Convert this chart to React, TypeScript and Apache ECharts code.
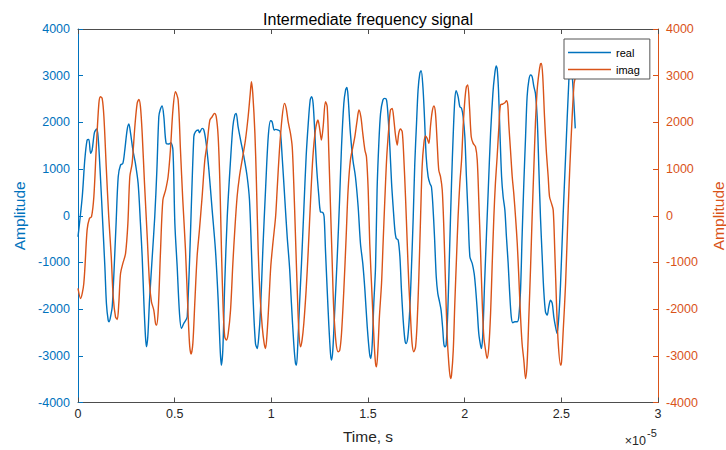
import React, { useEffect, useRef } from "react";
import * as echarts from "echarts";

// Time in units of 1e-5 s
const realT = [
  0.0, 0.022, 0.035, 0.047, 0.056, 0.065, 0.073, 0.085, 0.096, 0.104, 0.116, 0.128, 0.139, 0.147, 0.156, 0.161, 0.17, 0.177, 0.185, 0.197,
  0.208, 0.22, 0.232, 0.242, 0.254, 0.263, 0.272, 0.284, 0.297, 0.311, 0.323, 0.332, 0.341, 0.349, 0.354, 0.361, 0.37, 0.384, 0.397, 0.408,
  0.418, 0.425, 0.435, 0.444, 0.456, 0.47, 0.48, 0.491, 0.501, 0.513, 0.525, 0.535, 0.547, 0.565, 0.599, 0.608, 0.622, 0.628, 0.642, 0.651,
  0.663, 0.677, 0.694, 0.711, 0.725, 0.734, 0.741, 0.749, 0.759, 0.772, 0.789, 0.801, 0.811, 0.818, 0.828, 0.841, 0.858, 0.875, 0.887, 0.897,
  0.906, 0.918, 0.927, 0.935, 0.944, 0.956, 0.97, 0.984, 0.996, 1.004, 1.015, 1.022, 1.035, 1.046, 1.056, 1.07, 1.082, 1.094, 1.104, 1.116,
  1.125, 1.13, 1.137, 1.146, 1.156, 1.168, 1.18, 1.191, 1.201, 1.208, 1.216, 1.225, 1.234, 1.246, 1.254, 1.266, 1.273, 1.28, 1.289, 1.297,
  1.306, 1.311, 1.318, 1.328, 1.341, 1.353, 1.363, 1.375, 1.384, 1.391, 1.397, 1.409, 1.422, 1.435, 1.449, 1.461, 1.473, 1.484, 1.496, 1.508,
  1.515, 1.522, 1.53, 1.539, 1.547, 1.556, 1.565, 1.577, 1.587, 1.596, 1.604, 1.613, 1.622, 1.63, 1.639, 1.646, 1.656, 1.665, 1.673, 1.682,
  1.691, 1.697, 1.706, 1.716, 1.725, 1.734, 1.742, 1.751, 1.759, 1.768, 1.775, 1.784, 1.792, 1.801, 1.811, 1.82, 1.828, 1.835, 1.844, 1.853,
  1.861, 1.87, 1.878, 1.887, 1.892, 1.897, 1.904, 1.913, 1.922, 1.932, 1.941, 1.949, 1.956, 1.966, 1.975, 1.984, 1.992, 2.001, 2.009, 2.018,
  2.027, 2.039, 2.049, 2.056, 2.065, 2.073, 2.082, 2.087, 2.094, 2.103, 2.113, 2.122, 2.134, 2.146, 2.154, 2.163, 2.168, 2.175, 2.182, 2.191,
  2.199, 2.208, 2.216, 2.225, 2.232, 2.241, 2.249, 2.259, 2.272, 2.28, 2.289, 2.297, 2.306, 2.315, 2.323, 2.332, 2.341, 2.349, 2.358, 2.366,
  2.375, 2.384, 2.392, 2.401, 2.409, 2.418, 2.427, 2.435, 2.444, 2.453, 2.461, 2.47, 2.478, 2.487, 2.496, 2.509, 2.522, 2.539, 2.547, 2.558,
  2.572,
];
const realV = [
  -450, 407, 1193, 1621, 1636, 1336, 1407, 1779, 1857, 1693, 836, -164, -1093, -1879, -2236, -2271, -2129, -1950, -1307, -164,
  836, 1086, 1121, 1407, 1836, 1964, 1764, 1407, 1121, 693, -164, -879, -1879, -2593, -2807, -2593, -1807, -879, -21, 979,
  2121, 2264, 2350, 2121, 1550, 1536, 1564, 1407, -164, -1093, -2093, -2414, -2307, -2164, 1693, 1800, 1836, 1779, 1871, 1836,
  1550, 979, 121, -736, -1807, -2736, -3200, -2879, -1450, -21, 1193, 1907, 2157, 2193, 1907, 1621, 1264, 836, 336, -736,
  -1807, -2736, -2843, -2593, -2021, -736, 550, 1693, 2036, 2014, 1836, 1850, 1836, 1800, 1264, 336, -450, -1093, -1879, -2736,
  -3164, -3200, -2736, -1879, -1021, 121, 1264, 1979, 2479, 2550, 2407, 1764, 1050, 407, 86, 71, -21, -736, -1593, -2307,
  -2950, -3093, -2879, -2021, -879, 336, 1479, 2407, 2693, 2750, 2550, 1764, 1193, 836, 193, -593, -1021, -1593, -2379, -2950,
  -3057, -2736, -1879, -1093, 550, 1550, 2193, 2479, 2514, 2479, 2121, 1479, 693, 193, -307, -486, -521, -879, -1593, -2236,
  -2664, -2736, -2593, -2021, -1093, -21, 1121, 1979, 2693, 3050, 3107, 2764, 2121, 1264, 836, 693, 621, 264, -450, -1307,
  -1664, -1843, -2021, -2450, -2736, -2807, -2771, -2021, -736, 693, 1764, 2479, 2679, 2550, 2336, 2300, 2121, 1693, 836, -21,
  -879, -1021, -1236, -1521, -2021, -2521, -2771, -2843, -2521, -1450, -379, 550, 1764, 2621, 2979, 3207, 3157, 2693, 1836, 836,
  407, 121, -450, -1021, -1593, -2164, -2293, -2271, -2271, -2164, -1593, -450, 693, 1693, 2550, 2907, 3014, 2979, 2764, 2621,
  2121, 979, -21, -879, -1593, -2057, -2129, -1950, -1807, -1879, -2164, -2379, -2521, -2164, -1450, -21, 1264, 2907, 3407, 2907,
  1871,
];

const imagT = [
  0.0, 0.013, 0.03, 0.047, 0.059, 0.07, 0.082, 0.094, 0.108, 0.116, 0.125, 0.134, 0.146, 0.159, 0.172, 0.182, 0.194, 0.203, 0.211, 0.22,
  0.232, 0.246, 0.258, 0.268, 0.28, 0.294, 0.306, 0.315, 0.323, 0.332, 0.344, 0.358, 0.37, 0.38, 0.392, 0.401, 0.406, 0.415, 0.427, 0.439,
  0.453, 0.466, 0.478, 0.491, 0.504, 0.518, 0.53, 0.542, 0.556, 0.57, 0.578, 0.585, 0.594, 0.604, 0.616, 0.628, 0.642, 0.656, 0.668, 0.682,
  0.694, 0.706, 0.715, 0.725, 0.734, 0.742, 0.751, 0.759, 0.768, 0.777, 0.789, 0.801, 0.811, 0.823, 0.835, 0.849, 0.866, 0.88, 0.891, 0.897,
  0.904, 0.915, 0.923, 0.932, 0.942, 0.953, 0.963, 0.97, 0.978, 0.987, 0.997, 1.008, 1.022, 1.03, 1.042, 1.056, 1.068, 1.077, 1.087, 1.099,
  1.108, 1.116, 1.125, 1.134, 1.142, 1.151, 1.159, 1.168, 1.18, 1.191, 1.203, 1.215, 1.228, 1.241, 1.251, 1.259, 1.268, 1.28, 1.289, 1.297,
  1.306, 1.315, 1.323, 1.335, 1.346, 1.354, 1.363, 1.375, 1.387, 1.397, 1.409, 1.422, 1.432, 1.444, 1.453, 1.463, 1.473, 1.484, 1.492, 1.501,
  1.509, 1.522, 1.532, 1.539, 1.544, 1.551, 1.559, 1.57, 1.578, 1.587, 1.597, 1.608, 1.616, 1.625, 1.634, 1.642, 1.651, 1.659, 1.668, 1.677,
  1.685, 1.694, 1.703, 1.711, 1.72, 1.728, 1.737, 1.746, 1.754, 1.763, 1.772, 1.78, 1.789, 1.797, 1.806, 1.815, 1.823, 1.832, 1.841, 1.849,
  1.858, 1.866, 1.875, 1.884, 1.892, 1.901, 1.909, 1.918, 1.927, 1.932, 1.941, 1.949, 1.958, 1.966, 1.975, 1.984, 1.992, 2.001, 2.009, 2.016,
  2.025, 2.034, 2.044, 2.056, 2.065, 2.073, 2.082, 2.091, 2.099, 2.108, 2.116, 2.125, 2.134, 2.142, 2.151, 2.159, 2.168, 2.177, 2.185, 2.197,
  2.208, 2.216, 2.223, 2.228, 2.237, 2.246, 2.254, 2.263, 2.272, 2.28, 2.289, 2.297, 2.306, 2.315, 2.323, 2.332, 2.341, 2.349, 2.358, 2.366,
  2.375, 2.384, 2.392, 2.397, 2.404, 2.413, 2.422, 2.432, 2.439, 2.449, 2.458, 2.466, 2.475, 2.484, 2.496, 2.501, 2.509, 2.522, 2.534, 2.544,
  2.556, 2.566, 2.572,
];
const imagV = [
  -1557, -1771, -1450, -307, -57, -21, 407, 1407, 2407, 2550, 2514, 2121, 1050, -21, -879, -1736, -2164, -2221, -1879, -1236,
  -1021, -807, -164, 836, 1121, 1907, 2407, 2493, 2336, 1764, 693, -450, -1450, -1843, -2021, -2307, -2343, -2021, -736, 336,
  550, 836, 1407, 2264, 2657, 2479, 1407, 336, -736, -2164, -2807, -2964, -2736, -1879, -879, -307, 407, 1193, 1550, 2050,
  2121, 2193, 2121, 1693, 693, -736, -2021, -2593, -2664, -2521, -2021, -1021, -307, 407, 836, 1193, 1621, 2121, 2621, 2871,
  2621, 1764, 693, -736, -1736, -2379, -2736, -2843, -2521, -1879, -1093, -593, -21, 550, 1407, 2121, 2407, 2300, 2014, 1764,
  1479, 693, -450, -1593, -2450, -2807, -2664, -2307, -1593, -736, 336, 1264, 1836, 2050, 1836, 1621, 1907, 2443, 2336, 1407,
  193, -1021, -2021, -2736, -2914, -2879, -2521, -1593, -450, 550, 1193, 1479, 1693, 2050, 2264, 2121, 1764, 1407, 1264, 550,
  -593, -1807, -2736, -3164, -3236, -2879, -2164, -1450, -593, 336, 1264, 1907, 2264, 2300, 2050, 1729, 1514, 1764, 1857, 1800,
  1264, 407, -593, -1450, -2164, -2736, -2914, -2807, -2307, -1307, -21, 1050, 1550, 1707, 1657, 1550, 1907, 2229, 2350, 2193,
  1550, 979, 836, 550, -236, -1450, -2521, -3164, -3486, -3414, -2879, -1879, -879, -21, 693, 1193, 1907, 2479, 2764, 2800,
  2336, 1693, 1550, 1479, 1193, 336, -736, -1879, -2593, -2879, -3057, -2807, -2093, -1093, -21, 693, 1264, 1907, 2371, 2393,
  2421, 2464, 2371, 1979, 1407, 836, 479, -21, -593, -1307, -2164, -2736, -3093, -3486, -3164, -2164, -1093, -21, 1050, 1979,
  2693, 3050, 3250, 3264, 2979, 2121, 1407, 836, 407, 264, 121, -736, -1879, -2736, -3200, -3129, -2521, -1450, -21, 1050,
  2121, 2836, 2950,
];

const xTickMin = 0;
const xTickMax = 3;
const xTickStep = 0.5;
const yTickMin = -4000;
const yTickMax = 4000;
const yTickStep = 1000;

const BLUE = "#0072BD";
const ORANGE = "#D95319";
const AX = "#4d4d4d";
const FONT = '"Liberation Sans", Arial, Helvetica, sans-serif';

export default function App() {
  const ref = useRef<HTMLDivElement>(null);
  useEffect(() => {
    if (!ref.current) return;
    const chart = echarts.init(ref.current, undefined, { renderer: "svg" });
    const realData = realT.map((t, i) => [t, realV[i]]);
    const imagData = imagT.map((t, i) => [t, imagV[i]]);
    const yAxisBase = (color: string, pos: "left" | "right", gap: number) => ({
      type: "value",
      position: pos,
      min: yTickMin,
      max: yTickMax,
      interval: yTickStep,
      axisLine: { show: true, onZero: false, lineStyle: { color, width: 1 } },
      axisTick: { show: true, inside: true, length: 5, lineStyle: { color } },
      axisLabel: { color, fontSize: 12.5, fontFamily: FONT, margin: 8, formatter: (v: number) => String(v) },
      splitLine: { show: false },
      name: "Amplitude",
      nameLocation: "middle",
      nameRotate: 90,
      nameGap: gap,
      nameTextStyle: { color, fontSize: 15.5, fontFamily: FONT },
    });
    chart.setOption({
      animation: false,
      grid: { left: 78, right: 68, top: 29, bottom: 47.5, containLabel: false, outerBoundsMode: "none" },
      xAxis: [
        {
          type: "value",
          position: "bottom",
          min: xTickMin,
          max: xTickMax,
          interval: xTickStep,
          axisLine: { show: true, onZero: false, lineStyle: { color: AX, width: 1 } },
          axisTick: { show: true, inside: true, length: 5, lineStyle: { color: AX } },
          axisLabel: { color: "#262626", fontSize: 12.5, fontFamily: FONT, margin: 5, formatter: (v: number) => String(v) },
          splitLine: { show: false },
          name: "Time, s",
          nameLocation: "middle",
          nameGap: 26,
          nameTextStyle: { color: "#262626", fontSize: 15.5, fontFamily: FONT },
        },
        {
          type: "value",
          position: "top",
          min: xTickMin,
          max: xTickMax,
          interval: xTickStep,
          axisLine: { show: true, onZero: false, lineStyle: { color: AX, width: 1 } },
          axisTick: { show: true, inside: true, length: 5, lineStyle: { color: AX } },
          axisLabel: { show: false },
          splitLine: { show: false },
        },
      ],
      yAxis: [yAxisBase(BLUE, "left", 50), yAxisBase(ORANGE, "right", 52)],
      legend: {
        orient: "vertical",
        left: 564,
        top: 39,
        padding: [7, 10, 3, 4],
        itemGap: 4,
        itemWidth: 43,
        itemHeight: 1.5,
        icon: "rect",
        backgroundColor: "#ffffff",
        borderColor: "#555555",
        borderWidth: 1,
        borderRadius: 0,
        textStyle: { color: "#000", fontSize: 11, fontFamily: FONT, lineHeight: 13 },
        data: ["real", "imag"],
      },
      series: [
        {
          name: "real",
          type: "line",
          xAxisIndex: 0,
          yAxisIndex: 0,
          data: realData,
          showSymbol: false,
          symbol: "none",
          smooth: 0.3,
          lineStyle: { color: BLUE, width: 1.4 },
          itemStyle: { color: BLUE },
        },
        {
          name: "imag",
          type: "line",
          xAxisIndex: 0,
          yAxisIndex: 1,
          data: imagData,
          showSymbol: false,
          symbol: "none",
          smooth: 0.3,
          lineStyle: { color: ORANGE, width: 1.4 },
          itemStyle: { color: ORANGE },
        },
      ],
      graphic: [
        {
          type: "text",
          x: 368,
          y: 19,
          style: {
            text: "Intermediate frequency signal",
            textAlign: "center",
            textVerticalAlign: "middle",
            font: `16px ${FONT}`,
            fill: "#000",
          },
        },
        {
          type: "text",
          x: 646,
          y: 441,
          style: {
            text: "×10",
            textAlign: "right",
            textVerticalAlign: "middle",
            font: `12.5px ${FONT}`,
            fill: "#262626",
          },
        },
        {
          type: "text",
          x: 647,
          y: 433,
          style: {
            text: "-5",
            textAlign: "left",
            textVerticalAlign: "middle",
            font: `11px ${FONT}`,
            fill: "#262626",
          },
        },
      ],
    });
    return () => chart.dispose();
  }, []);
  return (
    <div
      ref={ref}
      style={{ position: "fixed", left: 0, top: 0, width: 726, height: 450, background: "#fff" }}
    />
  );
}
